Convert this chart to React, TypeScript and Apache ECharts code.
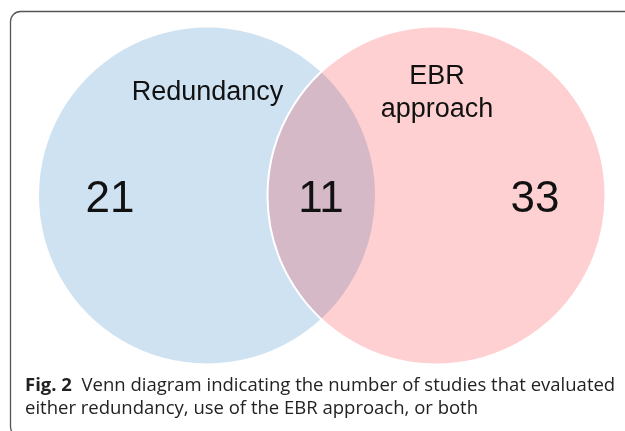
import React, { useEffect, useRef } from "react";
import * as echarts from "echarts";

// ---- data ----
const setNames = ["Redundancy", "EBR\napproach"];
const onlyCounts = [21, 33];
const overlapCount = 11;
const captionBold = "Fig. 2";
const captionLine1 = "Venn diagram indicating the number of studies that evaluated";
const captionLine2 = "either redundancy, use of the EBR approach, or both";

// ---- layout (pixel-space data coordinates) ----
const W = 625;
const H = 431;
const circleCx = [207, 436.5];
const circleCy = [195.5, 195.5];
const circleR = [168, 169];
const nameX = [207.5, 437];
const nameY = [91, 91.5];
const countX = [110, 321, 535];
const countY = [196.5, 196.5, 196.5];

const FILLS = ["#cfe2f2", "#ffd0d2"];
const LENS = "#d5b9c7";
const CAPTION_FONT = '18.5px "Open Sans", sans-serif';

export default function App() {
  const ref = useRef<HTMLDivElement>(null);
  useEffect(() => {
    if (!ref.current) return;
    const chart = echarts.init(ref.current, undefined, { renderer: "svg" });
    const circleData = circleCx.map((cx, i) => [cx, circleCy[i], circleR[i]]);
    const countValues = [onlyCounts[0], overlapCount, onlyCounts[1]];
    chart.setOption({
      animation: false,
      grid: { left: 0, right: 0, top: 0, bottom: 0 },
      xAxis: { type: "value", min: 0, max: W, show: false },
      yAxis: { type: "value", min: 0, max: H, inverse: true, show: false },
      series: [
        {
          type: "custom",
          z: 1,
          silent: true,
          data: circleData,
          renderItem: (params: any, api: any) => {
            const i = params.dataIndex;
            const c = api.coord([api.value(0), api.value(1)]);
            const r = api.size([api.value(2), 0])[0];
            return {
              type: "circle",
              shape: { cx: c[0], cy: c[1], r },
              style: { fill: FILLS[i] },
            };
          },
        },
        {
          type: "custom",
          z: 2,
          silent: true,
          data: [[overlapCount]],
          renderItem: (params: any, api: any) => {
            const c1 = api.coord([circleCx[0], circleCy[0]]);
            const c2 = api.coord([circleCx[1], circleCy[1]]);
            const r1 = api.size([circleR[0], 0])[0];
            const r2 = api.size([circleR[1], 0])[0];
            const d = c2[0] - c1[0];
            const a = (d * d + r1 * r1 - r2 * r2) / (2 * d);
            const h = Math.sqrt(r1 * r1 - a * a);
            const px = c1[0] + a;
            const top = c1[1] - h;
            const bot = c1[1] + h;
            const pathData = `M ${px} ${top} A ${r2} ${r2} 0 0 0 ${px} ${bot} A ${r1} ${r1} 0 0 0 ${px} ${top} Z`;
            return {
              type: "group",
              children: [
                { type: "path", shape: { pathData }, style: { fill: LENS } },
                {
                  type: "circle",
                  shape: { cx: c2[0], cy: c2[1], r: r2 },
                  style: { fill: "none", stroke: "#ffffff", lineWidth: 2 },
                },
              ],
            };
          },
        },
        {
          type: "custom",
          z: 3,
          silent: true,
          data: setNames.map((n, i) => [nameX[i], nameY[i]]),
          renderItem: (params: any, api: any) => {
            const i = params.dataIndex;
            const c = api.coord([api.value(0), api.value(1)]);
            return {
              type: "text",
              x: c[0],
              y: c[1],
              style: {
                text: setNames[i],
                fill: "#111111",
                font: '27px "Liberation Sans", Arial, sans-serif',
                align: "center",
                verticalAlign: "middle",
                lineHeight: 33,
              },
            };
          },
        },
        {
          type: "custom",
          z: 3,
          silent: true,
          data: countValues.map((v, i) => [countX[i], countY[i], v]),
          renderItem: (params: any, api: any) => {
            const c = api.coord([api.value(0), api.value(1)]);
            return {
              type: "text",
              x: c[0],
              y: c[1],
              style: {
                text: String(api.value(2)),
                fill: "#111111",
                font: '44px "Liberation Sans", Arial, sans-serif',
                align: "center",
                verticalAlign: "middle",
              },
            };
          },
        },
      ],
      graphic: [
        {
          type: "rect",
          z: 10,
          silent: true,
          shape: { x: 10.5, y: 11.5, width: 700, height: 425, r: 10 },
          style: { fill: "none", stroke: "#555555", lineWidth: 1.3 },
        },
        {
          type: "text",
          z: 10,
          x: 25,
          y: 383,
          style: {
            text: `{b|${captionBold}}  ${captionLine1}`,
            font: CAPTION_FONT,
            fill: "#222222",
            verticalAlign: "middle",
            rich: {
              b: { font: 'bold 18.5px "Open Sans", sans-serif', fill: "#222222" },
            },
          },
        },
        {
          type: "text",
          z: 10,
          x: 25,
          y: 406,
          style: {
            text: captionLine2,
            font: CAPTION_FONT,
            fill: "#222222",
            verticalAlign: "middle",
          },
        },
      ],
    });
    return () => chart.dispose();
  }, []);
  return (
    <div
      ref={ref}
      style={{ position: "fixed", left: 0, top: 0, width: W, height: H }}
    />
  );
}
